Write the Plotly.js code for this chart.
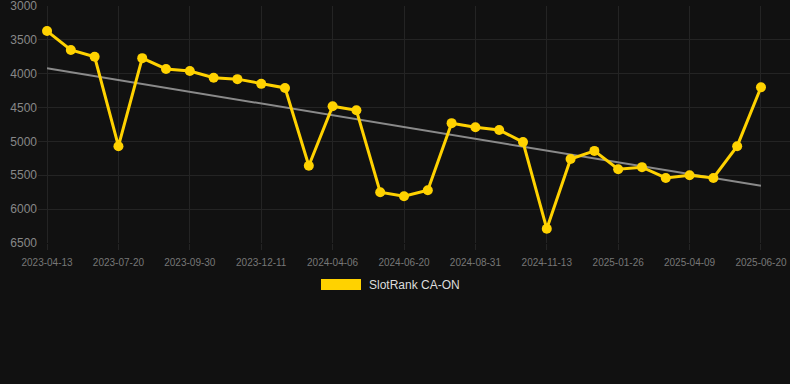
<!DOCTYPE html>
<html>
<head>
<meta charset="utf-8">
<script src="https://cdn.plot.ly/plotly-3.0.1.min.js"></script>
<style>
  html, body { margin: 0; padding: 0; background: #111111; }
  #chart { width: 790px; height: 384px; }
</style>
</head>
<body>
<div id="chart"></div>
<script>
// Rank values (lower is better, axis reversed)
const rankValues = [3370, 3650, 3750, 5070, 3770, 3930, 3960, 4060, 4080, 4150,
                    4210, 5360, 4480, 4540, 5750, 5810, 5720, 4730, 4790, 4830,
                    5010, 6290, 5260, 5140, 5410, 5380, 5540, 5500, 5540, 5070, 4200];
// Tick labels shown on every third point
const tickLabels = ["2023-04-13", "2023-07-20", "2023-09-30", "2023-12-11", "2024-04-06",
                    "2024-06-20", "2024-08-31", "2024-11-13", "2025-01-26", "2025-04-09", "2025-06-20"];
const tickStep = 3;
// Trend line endpoints
const trendValues = [3920, 5655];
const seriesName = "SlotRank CA-ON";

const xIdx = rankValues.map((_, i) => i);
const tickVals = tickLabels.map((_, i) => i * tickStep);
const trendX = [0, rankValues.length - 1];

const gold = "#FFD200";
const grid = "#242424";

const traces = [
  {
    x: trendX, y: trendValues, type: "scatter", mode: "lines",
    line: { color: "#8a8a8a", width: 2 }, hoverinfo: "skip", showlegend: false
  },
  {
    x: xIdx, y: rankValues, type: "scatter", mode: "lines+markers",
    name: seriesName,
    line: { color: gold, width: 3 },
    marker: { color: gold, size: 10 },
    showlegend: false
  }
];

const layout = {
  width: 790, height: 384,
  margin: { l: 38, r: 0, t: 6, b: 141 },
  paper_bgcolor: "#111111",
  plot_bgcolor: "#111111",
  font: { family: "Liberation Sans, Arial, sans-serif", color: "#888888" },
  xaxis: {
    range: [-0.38, 31.22],
    tickvals: tickVals, ticktext: tickLabels,
    showgrid: true, gridcolor: grid, gridwidth: 1,
    zeroline: false, showline: false,
    ticks: "outside", ticklen: 6, tickcolor: grid,
    tickfont: { size: 10, color: "#777777" },
    ticklabelstandoff: 4
  },
  yaxis: {
    range: [6500, 3000],
    dtick: 500, tick0: 3000,
    showgrid: true, gridcolor: grid, gridwidth: 1,
    zeroline: false, showline: false,
    ticks: "",
    tickfont: { size: 12, color: "#888888" },
    ticklabelstandoff: 0,
    ticklabeloverflow: "allow"
  },
  shapes: [
    { type: "rect", xref: "paper", yref: "paper",
      x0: (321 - 38) / 752, x1: (361 - 38) / 752,
      y0: (243 - 290) / 237, y1: (243 - 279) / 237,
      fillcolor: gold, line: { width: 0 } }
  ],
  annotations: [
    { xref: "paper", yref: "paper", x: (367 - 38) / 752, y: (243 - 285) / 237,
      xanchor: "left", yanchor: "middle", showarrow: false,
      text: seriesName, font: { size: 12, color: "#dddddd" } }
  ],
  showlegend: false
};

Plotly.newPlot("chart", traces, layout, { displayModeBar: false, staticPlot: true });
</script>
</body>
</html>
